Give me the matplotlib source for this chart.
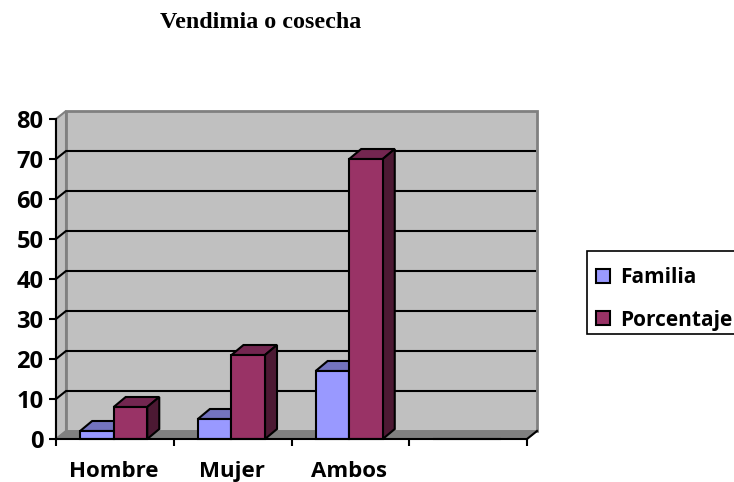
import matplotlib
matplotlib.use('Agg')
import matplotlib.pyplot as plt
import numpy as np
from matplotlib.patches import Polygon, Rectangle

# values
categorias = ['Hombre', 'Mujer', 'Ambos', '']
familia = [2, 5, 17, 0]
porcentaje = [8, 21, 70, 0]
yticks = [0, 10, 20, 30, 40, 50, 60, 70, 80]

W, H = 734, 482
plt.rcParams['font.family'] = ['Open Sans', 'DejaVu Sans']
plt.rcParams['font.weight'] = 'bold'

fig = plt.figure(figsize=(W / 100, H / 100), dpi=100)
ax = fig.add_axes([56 / W, 1 - 439 / H, (527 - 56) / W, (439 - 119) / H])
ax.set_xlim(0, 4)
ax.set_ylim(0, 80)
ax.patch.set_visible(False)

# depth of the fake 3d, in data units
px_x = 4 / (527 - 56)
px_y = 80 / (439 - 119)
wx, wy = 10 * px_x, 8 * px_y
bx, by = 12 * px_x, 10 * px_y


def poly(pts, face, edge, lw=1.5, z=1):
    ax.add_patch(Polygon(pts, closed=True, facecolor=face, edgecolor=edge, linewidth=lw,
                         joinstyle='miter', clip_on=False, zorder=z))


# walls and floor
poly([(0, 0), (wx, wy), (wx, 80 + wy), (0, 80)], '#C0C0C0', '#808080', 1.5, 1)
poly([(wx, wy), (4 + wx, wy), (4 + wx, 80 + wy), (wx, 80 + wy)], '#C0C0C0', '#808080', 2, 1)
poly([(0, 0), (4, 0), (4 + wx, wy), (wx, wy)], '#808080', '#808080', 1, 1.5)

for v in yticks[1:-1]:
    ax.plot([0, wx, 4 + wx - 2 * px_x], [v, v + wy, v + wy], color='black', lw=1.5, clip_on=False, zorder=2)
ax.plot([4, 4 + wx], [0, wy], color='black', lw=1.5, clip_on=False, zorder=2)

# bars
x = np.arange(4) + 0.49
w = 0.285
styles = [('#9999FF', '#7373BF', '#4C4C7F'), ('#993366', '#732650', '#4C1933')]
handles = []
for s, (vals, off) in enumerate([(familia, -w), (porcentaje, 0)]):
    front, top, side = styles[s]
    for xi, v in zip(x, vals):
        if v == 0:
            continue
        x0 = xi + off
        poly([(x0, v), (x0 + bx, v + by), (x0 + w + bx, v + by), (x0 + w, v)], top, 'black', 1.5, 3 + s)
        poly([(x0 + w, 0), (x0 + w + bx, by), (x0 + w + bx, v + by), (x0 + w, v)], side, 'black', 1.5, 3 + s)
    bars = ax.bar(x + off, vals, width=w, align='edge', color=front, edgecolor='black',
                  linewidth=1.5, zorder=3.5 + s, clip_on=False)
    handles.append(bars[0])

# axes
for name in ['top', 'right']:
    ax.spines[name].set_visible(False)
for name in ['left', 'bottom']:
    ax.spines[name].set_linewidth(1.5)
    ax.spines[name].set_zorder(6)
ax.set_yticks(yticks)
ax.set_xticks(range(5))
ax.set_xticklabels([])
ax.set_xticks(x, categorias, minor=True)
ax.tick_params(axis='x', which='major', length=5, width=1.5, direction='out')
ax.tick_params(axis='x', which='minor', length=0, pad=16, labelsize=16)
ax.tick_params(axis='y', length=5, width=1.5, pad=4, labelsize=17)

fig.text(261 / W, 1 - 22 / H, 'Vendimia o cosecha', ha='center', va='center',
         family='Liberation Serif', weight='bold', fontsize=17.3)

# legend box runs off the right edge, so it is drawn apart from the entries
fig.add_artist(Rectangle((587 / W, 1 - 334 / H), 160 / W, 83 / H, transform=fig.transFigure,
                         facecolor='white', edgecolor='black', linewidth=1.2))
leg = fig.legend(handles, ['Familia', 'Porcentaje'], loc='upper left',
                 bbox_to_anchor=(587 / W, 1 - 258 / H), borderaxespad=0,
                 fontsize=15, handlelength=0.67, handleheight=0.67, handletextpad=0.47,
                 labelspacing=1.02, borderpad=0.45, frameon=False)

fig.savefig('out.png', dpi=100)
